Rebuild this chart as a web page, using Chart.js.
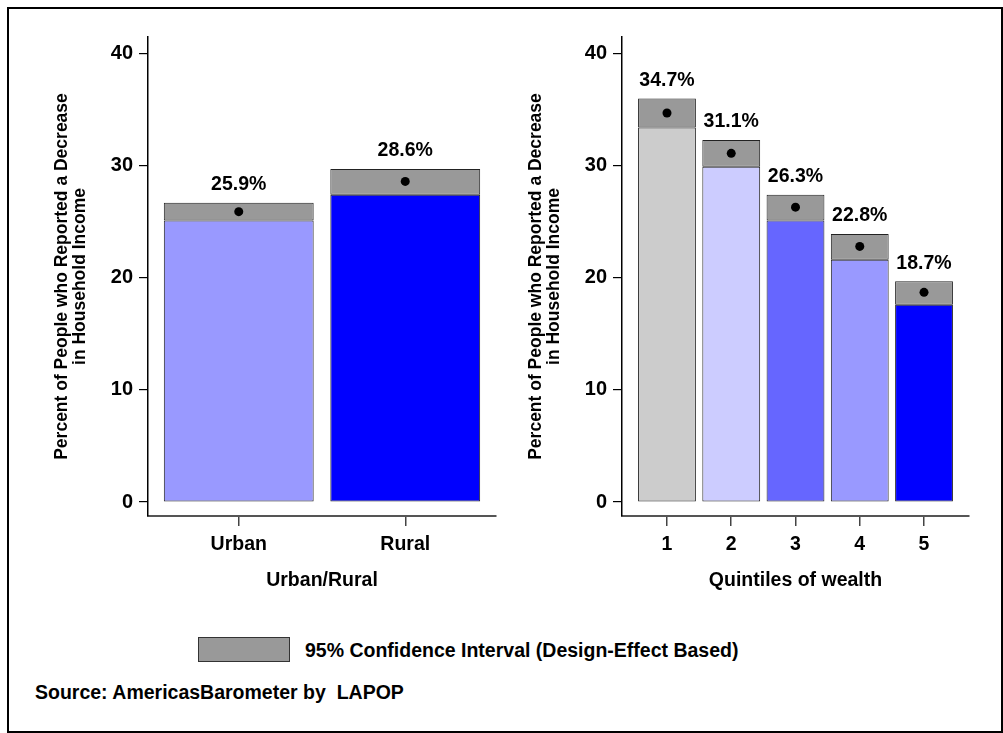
<!DOCTYPE html>
<html>
<head>
<meta charset="utf-8">
<script src="https://cdn.jsdelivr.net/npm/chart.js@4.4.1/dist/chart.umd.min.js"></script>
<style>
  body { margin: 0; background: #fff; }
  #page { position: relative; width: 1003px; height: 733px; overflow: hidden; background: #fff;
          font-family: 'Liberation Sans', Arial, sans-serif; font-weight: bold; color: #000; }
  #frame { position: absolute; left: 7px; top: 7px; width: 996px; height: 726px; box-sizing: border-box; border: 2px solid #000; }
  canvas { position: absolute; top: 0; }
  #leftChart { left: 0; }
  #rightChart { left: 474px; }
  #legendBox { position: absolute; left: 198px; top: 637px; width: 92px; height: 25px; box-sizing: border-box;
               background: #999999; border: 1px solid #333; }
  #legendText { position: absolute; left: 305px; top: 638px; font-size: 19.5px; line-height: 24px; white-space: nowrap; }
  #source { position: absolute; left: 35px; top: 680px; font-size: 19.5px; line-height: 24px; white-space: nowrap; }
</style>
</head>
<body>
<div id="page">
  <div id="frame"></div>
  <canvas id="leftChart" width="510" height="610"></canvas>
  <canvas id="rightChart" width="520" height="610"></canvas>
  <div id="legendBox"></div>
  <div id="legendText">95% Confidence Interval (Design-Effect Based)</div>
  <div id="source">Source: AmericasBarometer by&nbsp; LAPOP</div>
</div>
<script>
// Urban / Rural
const areaLabels = ['Urban', 'Rural'];
const areaEstimate = [25.9, 28.6];
const areaLow = [25.1, 27.4];
const areaHigh = [26.7, 29.7];

// Quintiles of wealth
const quintileLabels = ['1', '2', '3', '4', '5'];
const quintileEstimate = [34.7, 31.1, 26.3, 22.8, 18.7];
const quintileLow = [33.4, 29.9, 25.1, 21.6, 17.6];
const quintileHigh = [36.0, 32.3, 27.4, 23.9, 19.7];

const yTicks = [0, 10, 20, 30, 40];
const yTitle = ['Percent of People who Reported a Decrease', 'in Household Income'];

const areaColors = ['#9999ff', '#0000ff'];
const quintileColors = ['#cccccc', '#ccccff', '#6666ff', '#9999ff', '#0000ff'];
const ciColor = '#999999';

const fontFamily = "'Liberation Sans', Arial, sans-serif";
const tickFont = { family: fontFamily, size: 19.5, weight: 'bold' };
const titleFont = { family: fontFamily, size: 19.5, weight: 'bold' };

const valueLabels = {
    id: 'valueLabels',
    afterDatasetsDraw(chart) {
        const ctx = chart.ctx;
        const ciMeta = chart.getDatasetMeta(1);
        const est = chart.data.datasets[2].data;
        ctx.save();
        ctx.font = 'bold 19.5px ' + fontFamily;
        ctx.fillStyle = '#000';
        ctx.textAlign = 'center';
        ctx.textBaseline = 'middle';
        ciMeta.data.forEach((bar, i) => {
            ctx.fillText(est[i].y.toFixed(1) + '%', bar.x, bar.y - 18);
        });
        ctx.restore();
    }
};

function makePanel(canvasId, labels, estimate, low, high, colors, xTitle, xMin, xMax, padRight) {
    const ctx = document.getElementById(canvasId).getContext('2d');
    return new Chart(ctx, {
        type: 'bar',
        data: {
            datasets: [
                {
                    label: 'base',
                    data: labels.map((c, i) => ({ x: i + 1, y: low[i] })),
                    backgroundColor: colors,
                    borderColor: '#222',
                    borderWidth: 1,
                    borderSkipped: false,
                    grouped: false,
                    categoryPercentage: 1,
                    barPercentage: 0.9,
                    order: 2
                },
                {
                    label: '95% Confidence Interval (Design-Effect Based)',
                    data: labels.map((c, i) => ({ x: i + 1, y: [low[i], high[i]] })),
                    backgroundColor: ciColor,
                    borderColor: '#222',
                    borderWidth: 1,
                    borderSkipped: false,
                    grouped: false,
                    categoryPercentage: 1,
                    barPercentage: 0.9,
                    order: 1
                },
                {
                    type: 'scatter',
                    label: 'estimate',
                    data: labels.map((c, i) => ({ x: i + 1, y: estimate[i] })),
                    backgroundColor: '#000',
                    borderWidth: 0,
                    pointRadius: 4.5,
                    order: 0
                }
            ]
        },
        options: {
            responsive: false,
            animation: false,
            layout: { padding: { left: 0, top: 37, right: padRight, bottom: 0 } },
            plugins: { legend: { display: false }, tooltip: { enabled: false } },
            scales: {
                x: {
                    type: 'linear',
                    offset: false,
                    min: xMin,
                    max: xMax,
                    afterBuildTicks: s => { s.ticks = labels.map((c, i) => ({ value: i + 1 })); },
                    afterFit: s => { s.height = 94; },
                    ticks: {
                        callback: v => labels[v - 1],
                        font: tickFont, color: '#000', padding: 7,
                        maxRotation: 0, autoSkip: false
                    },
                    grid: { offset: false, drawOnChartArea: false, drawTicks: true, tickLength: 10, color: '#444', lineWidth: 1.5 },
                    border: { display: true, color: '#555', width: 2 },
                    title: { display: true, text: xTitle, font: titleFont, color: '#000', padding: { top: 0, bottom: 18 } }
                },
                y: {
                    min: -1.25,
                    max: 41.48,
                    afterBuildTicks: s => { s.ticks = yTicks.map(v => ({ value: v })); },
                    afterFit: s => { s.width = 148; },
                    ticks: { font: { family: fontFamily, size: 20, weight: 'bold' }, color: '#000', padding: 6 },
                    grid: { drawOnChartArea: false, drawTicks: true, tickLength: 9, color: '#000', lineWidth: 1.2 },
                    border: { display: true, color: '#000', width: 1.5 },
                    title: {
                        display: true, text: yTitle, color: '#000',
                        font: { family: fontFamily, size: 17.5, weight: 'bold', lineHeight: 1.05 },
                        padding: { top: 52.8, bottom: 0 }
                    }
                }
            }
        },
        plugins: [valueLabels]
    });
}

makePanel('leftChart', areaLabels, areaEstimate, areaLow, areaHigh, areaColors, 'Urban/Rural', 0.455, 2.545, 14);
makePanel('rightChart', quintileLabels, quintileEstimate, quintileLow, quintileHigh, quintileColors, 'Quintiles of wealth', 0.30, 5.70, 25);
</script>
</body>
</html>
